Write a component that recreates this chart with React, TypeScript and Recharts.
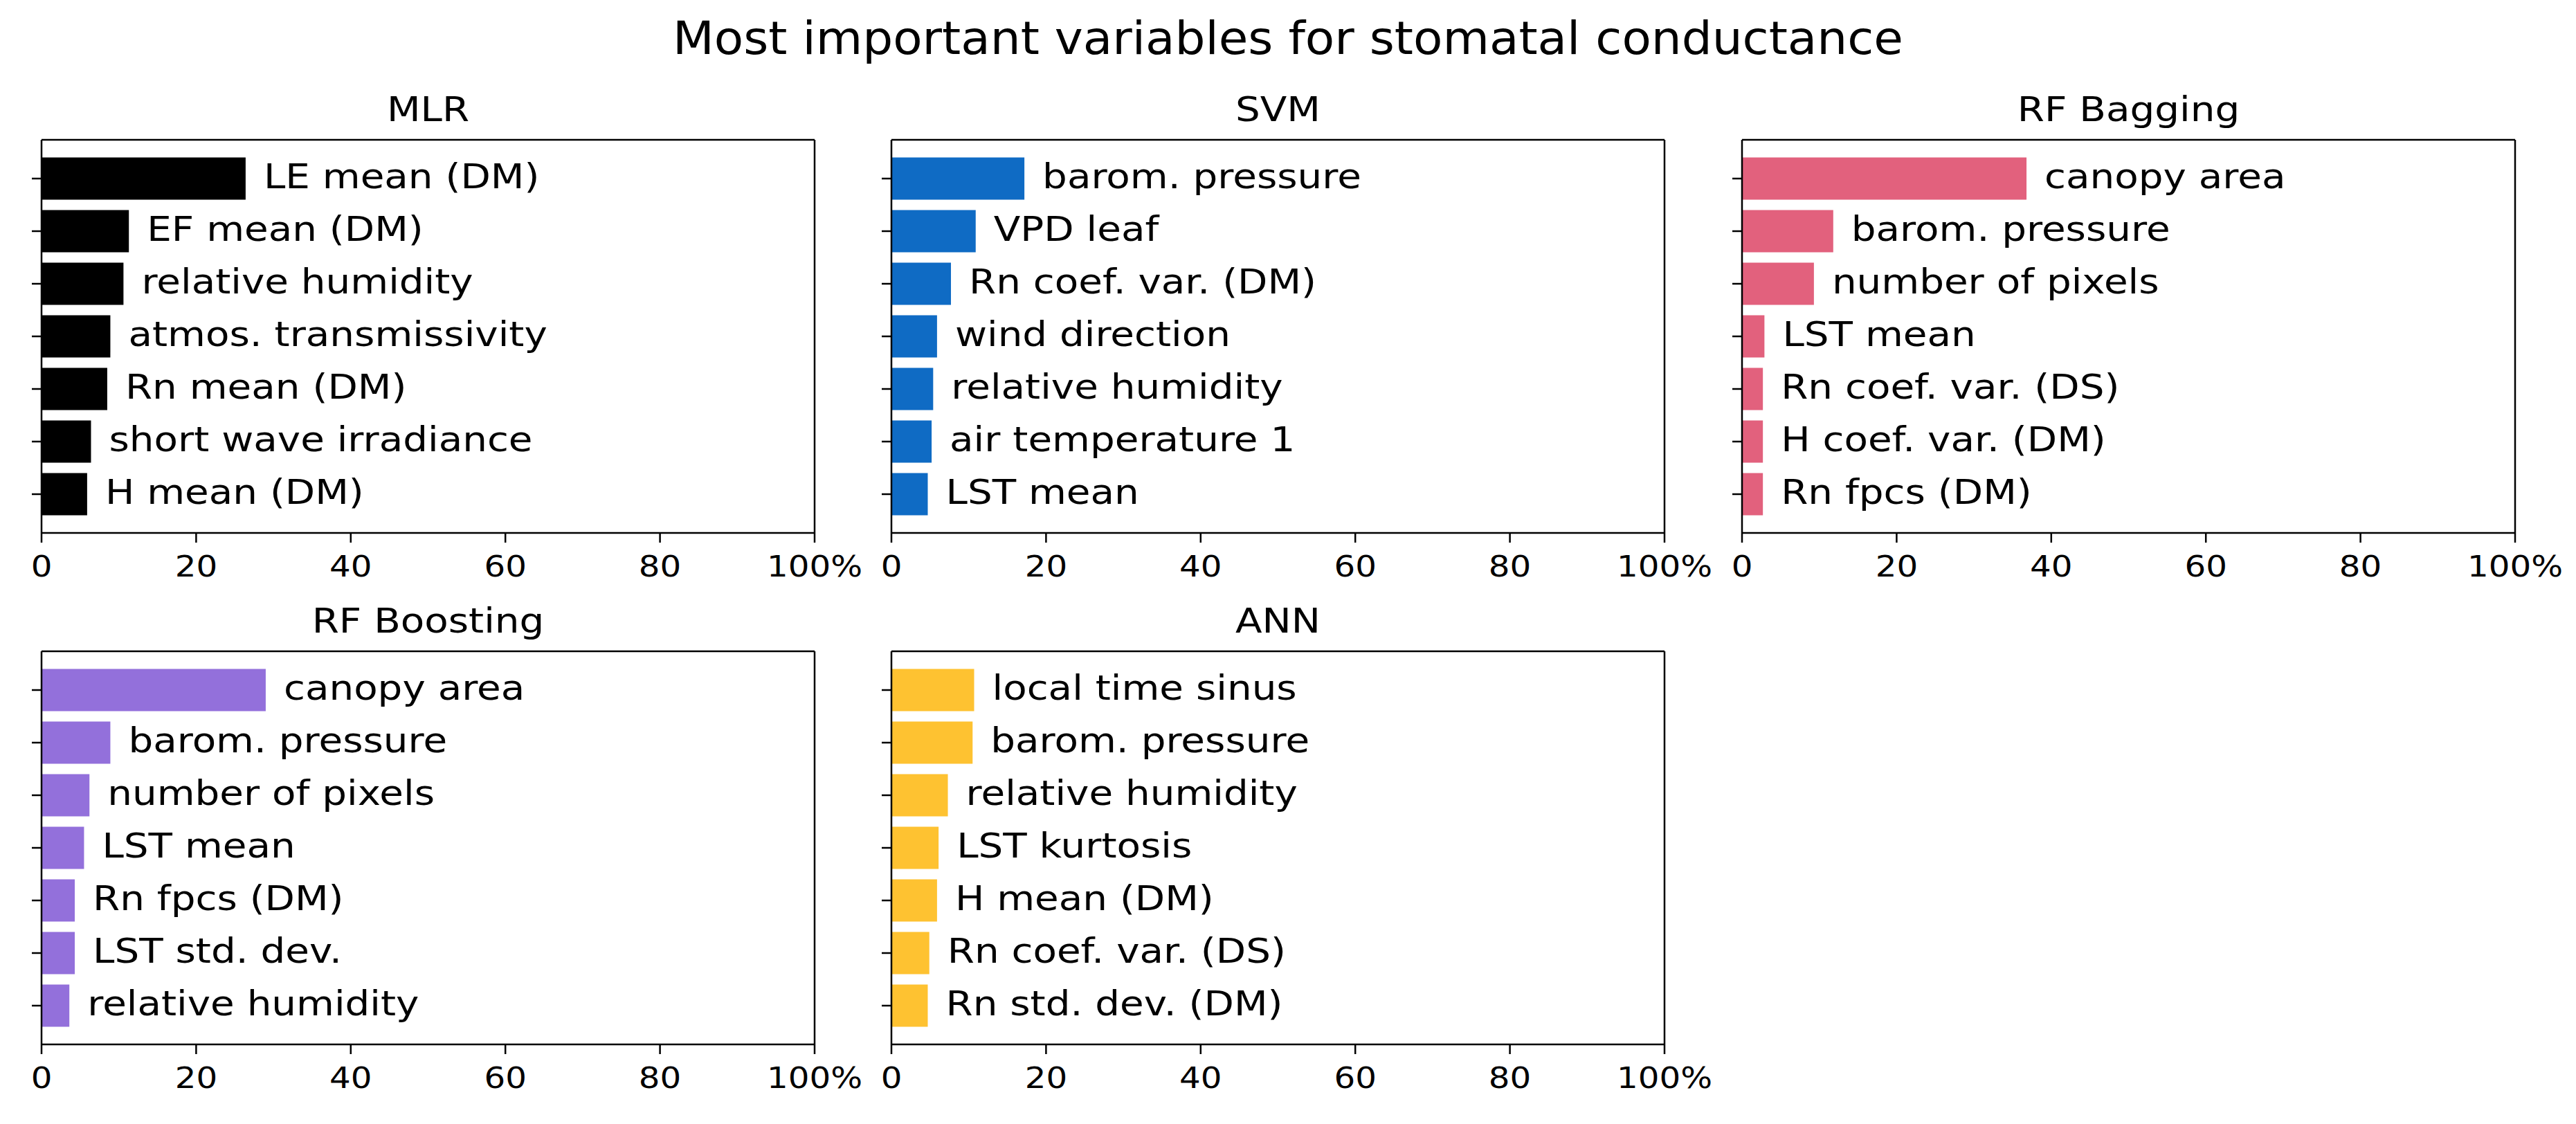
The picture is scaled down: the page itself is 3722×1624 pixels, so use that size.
import React from 'react';
import { BarChart, Bar, XAxis, YAxis, LabelList } from 'recharts';

// ---- data (percent importance) ----
const mlrLabels = ['LE mean (DM)', 'EF mean (DM)', 'relative humidity', 'atmos. transmissivity', 'Rn mean (DM)', 'short wave irradiance', 'H mean (DM)'];
const mlrValues = [26.4, 11.3, 10.6, 8.9, 8.5, 6.4, 5.9];

const svmLabels = ['barom. pressure', 'VPD leaf', 'Rn coef. var. (DM)', 'wind direction', 'relative humidity', 'air temperature 1', 'LST mean'];
const svmValues = [17.2, 10.9, 7.7, 5.9, 5.4, 5.2, 4.7];

const baggingLabels = ['canopy area', 'barom. pressure', 'number of pixels', 'LST mean', 'Rn coef. var. (DS)', 'H coef. var. (DM)', 'Rn fpcs (DM)'];
const baggingValues = [36.8, 11.8, 9.3, 2.9, 2.7, 2.7, 2.7];

const boostingLabels = ['canopy area', 'barom. pressure', 'number of pixels', 'LST mean', 'Rn fpcs (DM)', 'LST std. dev.', 'relative humidity'];
const boostingValues = [29.0, 8.9, 6.2, 5.5, 4.3, 4.3, 3.6];

const annLabels = ['local time sinus', 'barom. pressure', 'relative humidity', 'LST kurtosis', 'H mean (DM)', 'Rn coef. var. (DS)', 'Rn std. dev. (DM)'];
const annValues = [10.7, 10.5, 7.3, 6.1, 5.9, 4.9, 4.7];

const xTicks = [0, 20, 40, 60, 80, 100];

// ---- layout ----
const FONT = '"DejaVu Sans", sans-serif';
const STRETCH = 1.15; // the reference text is a bit wider than plain DejaVu
const TITLE_STRETCH = 1.066;
const BOX_W = 1117;
const BOX_H = 568;
const COL_LEFT = [60, 1288, 2517];
const ROW_TOP = [202, 941];
const ML = 40;
const MT = 10;
const MR = 80;
const XH = 100;
const YW = 20;
const LINE = { stroke: '#000', strokeWidth: 2.5 };

function BarLabel(props: any) {
  const { x, y, width, height, value } = props;
  const tx = Number(x) + Number(width) + 26;
  const ty = Number(y) + Number(height) / 2 - 3;
  return (
    <text
      transform={`translate(${tx},${ty}) scale(${STRETCH},1)`}
      dominantBaseline="central"
      fontSize={49}
      fontFamily={FONT}
      fill="#000"
    >
      {value}
    </text>
  );
}

function XTick(props: any) {
  const { x, y, payload } = props;
  const v = payload.value;
  return (
    <g transform={`translate(${x},${y})`}>
      <text
        transform={`scale(${STRETCH},1)`}
        textAnchor="middle"
        dy="0.71em"
        fontSize={42}
        fontFamily={FONT}
        fill="#000"
      >
        {v === 100 ? '100%' : String(v)}
      </text>
    </g>
  );
}

type PanelProps = {
  title: string;
  labels: string[];
  values: number[];
  color: string;
  left: number;
  top: number;
};

function Panel({ title, labels, values, color, left, top }: PanelProps) {
  const data = labels.map((name, i) => ({ name, value: values[i] }));
  return (
    <>
      <div
        style={{
          position: 'absolute',
          left,
          width: BOX_W,
          top: top - 43 - 35,
          height: 70,
          lineHeight: '70px',
          textAlign: 'center',
          fontSize: 49,
          fontFamily: FONT,
          color: '#000',
          transform: `scaleX(${STRETCH})`,
          whiteSpace: 'nowrap',
        }}
      >
        {title}
      </div>
      <div style={{ position: 'absolute', left: left - ML, top: top - MT }}>
        <BarChart
          width={ML + BOX_W + MR}
          height={MT + BOX_H + XH}
          data={data}
          layout="vertical"
          margin={{ top: MT - 1, right: MR - 1, left: ML - YW, bottom: 0 }}
          barCategoryGap="10%"
        >
          <XAxis
            xAxisId="b"
            type="number"
            domain={[0, 100]}
            ticks={xTicks}
            interval={0}
            height={XH}
            stroke="#000"
            axisLine={LINE}
            tickLine={LINE}
            tickSize={14}
            tickMargin={19}
            tick={<XTick />}
          />
          <XAxis
            xAxisId="t"
            orientation="top"
            type="number"
            domain={[0, 100]}
            height={1}
            stroke="#000"
            axisLine={LINE}
            tick={false}
            tickLine={false}
          />
          <YAxis
            yAxisId="l"
            type="category"
            dataKey="name"
            width={YW}
            padding={{ top: 18, bottom: 18 }}
            stroke="#000"
            axisLine={LINE}
            tickLine={LINE}
            tickSize={14}
            tick={() => <g />}
          />
          <YAxis
            yAxisId="r"
            orientation="right"
            type="category"
            dataKey="name"
            width={1}
            padding={{ top: 18, bottom: 18 }}
            stroke="#000"
            axisLine={LINE}
            tick={false}
            tickLine={false}
          />
          <Bar dataKey="value" xAxisId="b" yAxisId="l" fill={color} isAnimationActive={false}>
            <LabelList dataKey="name" content={BarLabel} />
          </Bar>
        </BarChart>
      </div>
    </>
  );
}

export default function App() {
  return (
    <div
      style={{
        position: 'absolute',
        left: 0,
        top: 0,
        width: 3722,
        height: 1624,
        background: '#fff',
        overflow: 'hidden',
      }}
    >
      <div
        style={{
          position: 'absolute',
          left: 0,
          width: 3722,
          top: 16,
          height: 80,
          lineHeight: '80px',
          textAlign: 'center',
          fontSize: 65,
          fontFamily: FONT,
          color: '#000',
          transform: `scaleX(${TITLE_STRETCH})`,
          whiteSpace: 'nowrap',
        }}
      >
        Most important variables for stomatal conductance
      </div>
      <Panel title="MLR" labels={mlrLabels} values={mlrValues} color="#000000" left={COL_LEFT[0]} top={ROW_TOP[0]} />
      <Panel title="SVM" labels={svmLabels} values={svmValues} color="#0f6bc4" left={COL_LEFT[1]} top={ROW_TOP[0]} />
      <Panel title="RF Bagging" labels={baggingLabels} values={baggingValues} color="#e2617d" left={COL_LEFT[2]} top={ROW_TOP[0]} />
      <Panel title="RF Boosting" labels={boostingLabels} values={boostingValues} color="#9370db" left={COL_LEFT[0]} top={ROW_TOP[1]} />
      <Panel title="ANN" labels={annLabels} values={annValues} color="#fec231" left={COL_LEFT[1]} top={ROW_TOP[1]} />
    </div>
  );
}
